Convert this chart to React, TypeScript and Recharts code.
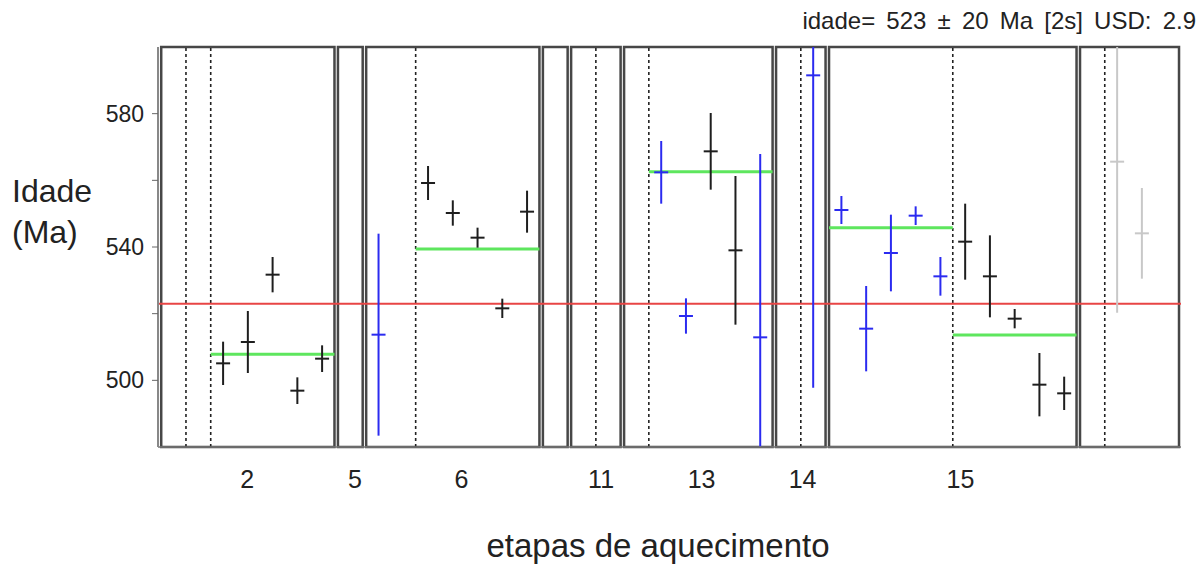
import {
  ComposedChart,
  Scatter,
  ErrorBar,
  XAxis,
  YAxis,
  ReferenceArea,
  ReferenceLine,
} from 'recharts';

// heating steps are grouped in boxes; each box holds a number of slots
const boxSlots = [7, 1, 7, 1, 2, 6, 2, 10, 4];
const boxDividers = [[1, 2], [], [2], [], [1], [1], [1], [5], [1]];
const stepLabels = ['2', '5', '6', '11', '13', '14', '15'];
const stepLabelPos = [3.47, 7.83, 12.13, 17.77, 21.83, 25.91, 32.29];

const yTicks = [500, 520, 540, 560, 580];
const yLabelTicks = [500, 540, 580];

// [box, slot, age (Ma), 2s error]
const blackSteps: [number, number, number, number][] = [
  [0, 3, 505.1, 6.5],
  [0, 4, 511.5, 9.3],
  [0, 5, 531.7, 5.3],
  [0, 6, 496.9, 4.0],
  [0, 7, 506.5, 4.0],
  [2, 3, 559.2, 5.1],
  [2, 4, 550.2, 3.8],
  [2, 5, 542.8, 3.0],
  [2, 6, 521.6, 2.9],
  [2, 7, 550.6, 6.3],
  [5, 4, 568.7, 11.5],
  [5, 5, 539.0, 22.3],
  [7, 6, 541.6, 11.4],
  [7, 7, 531.2, 12.3],
  [7, 8, 518.5, 2.9],
  [7, 9, 498.7, 9.5],
  [7, 10, 496.1, 5.0],
];

const blueSteps: [number, number, number, number][] = [
  [2, 1, 513.7, 30.3],
  [5, 2, 562.4, 9.4],
  [5, 3, 519.3, 5.3],
  [5, 6, 512.9, 55.0],
  [6, 2, 591.5, 93.7],
  [7, 1, 551.1, 4.2],
  [7, 2, 515.5, 12.8],
  [7, 3, 538.2, 11.5],
  [7, 4, 549.4, 2.8],
  [7, 5, 531.2, 5.8],
];

const greySteps: [number, number, number, number][] = [
  [8, 2, 565.6, 45.3],
  [8, 3, 544.1, 13.6],
];

// [box, from slot edge, to slot edge, age]
const plateaus: [number, number, number, number][] = [
  [0, 2, 7, 507.8],
  [2, 2, 7, 539.4],
  [5, 1, 6, 562.6],
  [7, 0, 5, 545.8],
  [7, 5, 10, 513.6],
];

const meanAge = 523;

const BOX_GAP = 0.14;
const boxStart: number[] = [];
boxSlots.reduce((acc, n) => {
  boxStart.push(acc);
  return acc + n + BOX_GAP;
}, 0);

const toPoints = (rows: [number, number, number, number][]) =>
  rows.map(([b, s, age, err]) => ({ x: boxStart[b] + s - 0.5, y: age, err }));

const FONT = '"Liberation Sans", Arial, sans-serif';

// plot area
const PLOT = { left: 158, top: 47, width: 1023, height: 400 };
const Y_AXIS_W = 60;
const X_AXIS_H = 30;

const crossShape = (color: string) => (props: any) =>
  (
    <line
      x1={props.cx - 7}
      x2={props.cx + 7}
      y1={props.cy}
      y2={props.cy}
      stroke={color}
      strokeWidth={2}
    />
  );

const StepTick = (props: any) => {
  const { x, y, index } = props;
  return (
    <text x={x} y={y + 41} textAnchor="middle" fontSize={25} fill="#222" fontFamily={FONT}>
      {stepLabels[index]}
    </text>
  );
};

export default function App() {
  const series = [
    { data: toPoints(blackSteps), color: '#1e1e1e' },
    { data: toPoints(blueSteps), color: '#2b2bf0' },
    { data: toPoints(greySteps), color: '#c8c8c8' },
  ];

  return (
    <div style={{ position: 'absolute', left: 0, top: 0, width: 1202, height: 566, background: '#fff' }}>
      <style>{`.recharts-errorBars, .recharts-scatter { clip-path: url(#plot-clip); }`}</style>
      <svg width={0} height={0} style={{ position: 'absolute' }}>
        <defs>
          <clipPath id="plot-clip">
            <rect x={PLOT.left} y={PLOT.top} width={PLOT.width} height={PLOT.height} />
          </clipPath>
        </defs>
      </svg>
      <ComposedChart
        width={1202}
        height={566}
        margin={{
          top: PLOT.top,
          right: 1202 - PLOT.left - PLOT.width,
          bottom: 566 - PLOT.top - PLOT.height - X_AXIS_H,
          left: PLOT.left - Y_AXIS_W,
        }}
      >
        <XAxis
          type="number"
          dataKey="x"
          domain={[-0.13, 41.2]}
          allowDataOverflow
          ticks={stepLabelPos}
          interval={0}
          tick={<StepTick />}
          tickLine={false}
          tickSize={0}
          tickMargin={0}
          height={X_AXIS_H}
          axisLine={{ stroke: '#777', strokeWidth: 1.5 }}
        />
        <YAxis
          type="number"
          dataKey="y"
          domain={[480, 600]}
          allowDataOverflow
          ticks={yTicks}
          interval={0}
          width={Y_AXIS_W}
          tickSize={6}
          tickMargin={8}
          tickFormatter={(v: number) => (yLabelTicks.includes(v) ? String(v) : '')}
          tick={{ fontSize: 23, fill: '#222', fontFamily: FONT }}
          tickLine={{ stroke: '#666' }}
          axisLine={{ stroke: '#888', strokeWidth: 2 }}
        />
        {boxSlots.map((n, i) => (
          <ReferenceArea
            key={`box-${i}`}
            x1={boxStart[i]}
            x2={boxStart[i] + n}
            y1={480}
            y2={600}
            fill="none"
            fillOpacity={0}
            stroke="#474747"
            strokeWidth={2.5}
            ifOverflow="visible"
          />
        ))}
        {boxDividers.flatMap((divs, i) =>
          divs.map((d) => (
            <ReferenceLine
              key={`div-${i}-${d}`}
              x={boxStart[i] + d}
              stroke="#222"
              strokeWidth={1.6}
              strokeDasharray="3 3"
            />
          ))
        )}
        <ReferenceLine y={meanAge} stroke="#e84545" strokeWidth={2} />
        {plateaus.map(([b, from, to, age], i) => (
          <ReferenceLine
            key={`plateau-${i}`}
            segment={[
              { x: boxStart[b] + from, y: age },
              { x: boxStart[b] + to, y: age },
            ]}
            stroke="#5ee65e"
            strokeWidth={3}
          />
        ))}
        {series.map((s, i) => (
          <Scatter
            key={`s-${i}`}
            data={s.data}
            dataKey="y"
            shape={crossShape(s.color)}
            isAnimationActive={false}
          >
            <ErrorBar dataKey="err" direction="y" width={0} stroke={s.color} strokeWidth={2} />
          </Scatter>
        ))}
      </ComposedChart>
      <svg
        width={1202}
        height={566}
        style={{ position: 'absolute', left: 0, top: 0, pointerEvents: 'none' }}
      >
        <text
          x={1196}
          y={29}
          textAnchor="end"
          fontSize={24}
          wordSpacing={4.5}
          fill="#222"
          fontFamily={FONT}
        >
          idade= 523 ± 20 Ma [2s] USD: 2.9
        </text>
        <text x={12} y={202} fontSize={32} fill="#222" fontFamily={FONT}>
          Idade
        </text>
        <text x={12} y={243} fontSize={32} fill="#222" fontFamily={FONT}>
          (Ma)
        </text>
        <text x={658} y={557} textAnchor="middle" fontSize={33} fill="#222" fontFamily={FONT}>
          etapas de aquecimento
        </text>
      </svg>
    </div>
  );
}
